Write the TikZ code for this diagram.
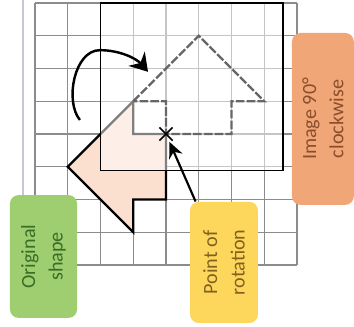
\documentclass[tikz,border=0pt]{standalone}
\usepackage{fontspec}
\setmainfont{Carlito}
\usetikzlibrary{arrows.meta, shapes.misc}
\definecolor{gridgray}{RGB}{140,140,140}
\definecolor{marginblue}{RGB}{195,200,212}
\definecolor{peach}{RGB}{251,224,208}
\definecolor{greenbox}{RGB}{158,206,112}
\definecolor{greentext}{RGB}{58,108,38}
\definecolor{yellowbox}{RGB}{253,214,92}
\definecolor{yellowtext}{RGB}{128,98,30}
\definecolor{orangebox}{RGB}{240,166,118}
\definecolor{orangetext}{RGB}{138,78,44}

\begin{document}
\begin{tikzpicture}[x=0.8cm,y=0.8cm,
  gridline/.style={draw=gridgray,line width=1pt},
  origshape/.style={draw=black,line width=1.6pt,fill=peach},
  imgshape/.style={draw=black!60,line width=1.6pt,dash pattern=on 6pt off 1.5pt},
  notebox/.style={rotate=90,rounded corners=6pt,inner sep=2pt,align=center,
    font=\fontsize{14}{19}\selectfont},
  pointer/.style={line width=1.5pt,-{Stealth[length=11pt,width=10pt]}}]
  \useasboundingbox (-1.069,-1.863) rectangle (9.740,8.092);
  \draw[marginblue,line width=0.9pt] (-0.366,8.092) -- (-0.366,2);
  \foreach \i in {0,...,8} {
    \draw[gridline] (\i,0) -- (\i,8);
    \draw[gridline] (0,\i) -- (8,\i);
  }
  % original shape
  \draw[origshape] (1,3) -- (3,5) -- (3,4) -- (4,4) -- (4,2) -- (3,2) -- (3,1) -- cycle;
  % image frame
  \draw[line width=1pt,fill=white,fill opacity=0.5] (2,2.88) rectangle (7.57,8);
  % image after turning
  \draw[imgshape] (3,5) -- (5,7) -- (7,5) -- (6,5) -- (6,4) -- (4,4) -- (4,5) -- (3,5);
  \node (pivot) [cross out,draw,line width=1.2pt,minimum size=8pt,inner sep=0pt] at (4,4) {};
  % turning arrow
  \coordinate (turnstart) at (1.37,4.43);
  \coordinate (turntop) at (1.98,6.56);
  \coordinate (turnend) at (3.45,5.9);
  \draw[line width=1.7pt,-{Stealth[length=12pt,width=15pt]}] (turnstart) .. controls (0.9,5.0) and (1.2,6.56) .. (turntop)
    .. controls (2.6,6.56) and (3.1,6.3) .. (turnend);
  % labels
  \node (origlabel) [notebox,fill=greenbox,text=greentext,minimum width=3.0cm,minimum height=1.64cm] at (0.26,0.26) {Original\\shape};
  \node (pivotlabel) [notebox,fill=yellowbox,text=yellowtext,minimum width=2.96cm,minimum height=1.66cm] at (5.77,0.08) {Point of\\rotation};
  \node (imagelabel) [notebox,fill=orangebox,text=orangetext,minimum width=4.2cm,minimum height=1.51cm] at (8.79,4.46) {Image 90°\\clockwise};
  \draw[pointer,shorten >=1pt] (pivotlabel.25) -- (pivot);
\end{tikzpicture}
\end{document}
